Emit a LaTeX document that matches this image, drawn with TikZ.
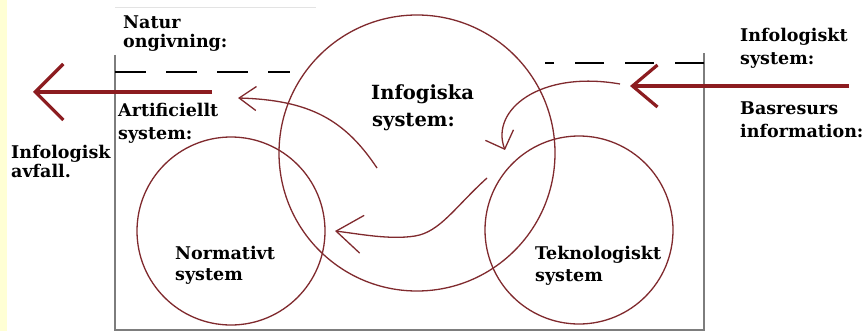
\documentclass[tikz,border=0pt]{standalone}
\usepackage{fontspec}
\setmainfont{Liberation Serif}
\newfontfamily\lblfont{DejaVu Serif}
\usetikzlibrary{arrows.meta}
\definecolor{circred}{RGB}{128,42,46}
\definecolor{arrred}{RGB}{140,28,32}
\definecolor{paleyellow}{RGB}{255,255,212}
\definecolor{boxgray}{RGB}{125,125,125}
\tikzset{
  sysc/.style={circle, draw=circred, line width=1.3pt, inner sep=0pt, minimum size=#1},
  lbl/.style={inner sep=0pt, anchor=base west, font=\lblfont\bfseries\fontsize{17.5}{21}\selectfont},
  biglbl/.style={lbl, font=\lblfont\bfseries\fontsize{19.5}{23}\selectfont},
  boxline/.style={draw=boxgray, line width=1.7pt},
  dashline/.style={draw=black, line width=1.4pt},
  bigarrow/.style={draw=arrred, line width=3.2pt},
  thinarrow/.style={draw=circred, line width=1.3pt}
}
\begin{document}
\begin{tikzpicture}[x=1pt,y=-1pt]
\useasboundingbox (0,0) rectangle (866,331);
\fill[white] (0,0) rectangle (866,331);
\fill[paleyellow] (0,0) rectangle (7,331);
% faint top line
\draw[gray!22, line width=1pt] (115,8) -- (316,8);
% box
\coordinate (tl) at (115,55);
\coordinate (bl) at (115,330);
\coordinate (br) at (704,330);
\coordinate (tr) at (704,53);
\draw[boxline] (tl) -- (bl) -- (br) -- (tr);
% dashed borders
\coordinate (dl0) at (115,72);
\coordinate (dl1) at (290,72);
\draw[dashline, dash pattern=on 31pt off 20pt] (dl0) -- (dl1);
\coordinate (dr0) at (704,63);
\coordinate (dr1) at (545,63);
\draw[dashline, dash pattern=on 29pt off 21pt] (dr0) -- (dr1);
% circles
\node[sysc=276pt] (info) at (417,153) {};
\node[sysc=188pt] (norm) at (231,231) {};
\node[sysc=188pt] (tekn) at (579,230) {};
% labels
\node[lbl] (natur1) at (123,29) {Natur};
\node[lbl] (natur2) at (123,48) {ongivning:};
\node[lbl] (art1) at (118,117) {Artificiellt};
\node[lbl] (art2) at (118,140) {system:};
\node[lbl] (avf1) at (11,158) {Infologisk};
\node[lbl] (avf2) at (11,177) {avfall.};
\node[biglbl] (infs1) at (371,100) {Infogiska};
\node[biglbl] (infs2) at (372,127) {system:};
\node[lbl] (ilt1) at (740,42) {Infologiskt};
\node[lbl] (ilt2) at (740,65) {system:};
\node[lbl] (bas1) at (740,115) {Basresurs};
\node[lbl] (bas2) at (740,138) {information:};
\node[lbl] (nor1) at (175,259) {Normativt};
\node[lbl] (nor2) at (175,280) {system};
\node[lbl] (tek1) at (535,259) {Teknologiskt};
\node[lbl] (tek2) at (535,281) {system};
% big arrows
\coordinate (ls) at (212,92);
\coordinate (lt) at (33,92);
\draw[bigarrow, -{Straight Barb[length=28pt,width=56pt]}] (ls) -- (lt);
\coordinate (rs) at (849,86);
\coordinate (rt) at (630,86);
\draw[bigarrow, -{Straight Barb[length=25pt,width=42pt]}] (rs) -- (rt);
% thin curved arrows
\coordinate (a0) at (377,168);
\coordinate (a1) at (238,98);
\draw[thinarrow, -{Straight Barb[length=17pt,width=24pt]}] (a0) .. controls (345,120) and (310,100) .. (a1);
\coordinate (b0) at (620,84);
\coordinate (b1) at (505,150);
\draw[thinarrow, -{Straight Barb[length=15pt,width=30pt]}] (b0) .. controls (540,70) and (490,110) .. (b1);
\coordinate (c0) at (487,178);
\coordinate (cm) at (415,236);
\coordinate (c1) at (335,231);
\draw[thinarrow, -{Straight Barb[length=26pt,width=38pt]}] (c0) .. controls (455,207) and (440,232) .. (cm) .. controls (390,240) and (360,234) .. (c1);
\end{tikzpicture}
\end{document}
